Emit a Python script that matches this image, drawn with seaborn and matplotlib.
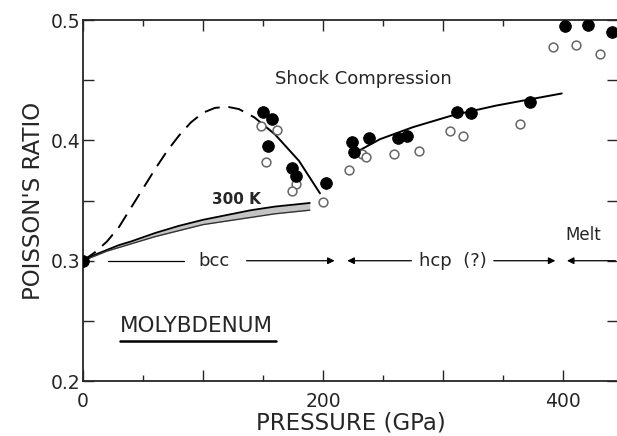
import numpy as np
import pandas as pd
import matplotlib
matplotlib.use("Agg")
import matplotlib.pyplot as plt
import seaborn as sns

# pontos de choque (cheios / vazios)
filled_p = [0, 149.7, 157.8, 154.4, 174.4, 177.5, 202.5,
            224.4, 225.6, 238.6, 262.8, 270.0, 311.4, 323.6, 372.5,
            402.0, 421.0, 440.6]
filled_nu = [0.300, 0.424, 0.418, 0.395, 0.377, 0.370, 0.365,
             0.399, 0.390, 0.402, 0.402, 0.404, 0.424, 0.423, 0.432,
             0.495, 0.496, 0.490]
open_p = [148.3, 161.7, 152.2, 177.8, 174.2, 199.7,
          221.7, 232.2, 235.6, 259.4, 280.0, 306.1, 316.4, 364.2,
          392.0, 411.0, 430.6]
open_nu = [0.412, 0.409, 0.382, 0.364, 0.358, 0.349,
           0.375, 0.389, 0.386, 0.389, 0.391, 0.408, 0.404, 0.414,
           0.478, 0.479, 0.472]

# curvas 300 K (limites da faixa)
k300_p = [0, 10, 20, 30, 40, 60, 80, 100, 120, 140, 160, 189]
k300_hi = [0.300, 0.305, 0.309, 0.313, 0.316, 0.323, 0.329, 0.334, 0.338, 0.342, 0.345, 0.348]
k300_lo = [0.300, 0.304, 0.308, 0.311, 0.314, 0.320, 0.325, 0.330, 0.333, 0.336, 0.339, 0.342]

# curva tracejada (bcc) e ajustes
dash_p = [0, 10, 20, 30, 40, 50, 60, 70, 80, 90, 100, 110, 120, 130, 143]
dash_nu = [0.300, 0.307, 0.316, 0.328, 0.344, 0.360, 0.376, 0.391, 0.404,
           0.415, 0.423, 0.427, 0.428, 0.426, 0.419]
bcc_p = [143, 160, 180, 197.5]
bcc_nu = [0.419, 0.405, 0.383, 0.356]
hcp_p = [231, 247.5, 275, 308.6, 344.7, 399]
hcp_nu = [0.392, 0.401, 0.411, 0.421, 0.429, 0.439]

sns.set_style("ticks")
plt.rcParams["font.family"] = ["DejaVu Sans"]

fig = plt.figure(figsize=(6.17, 4.36), dpi=100)
ax = fig.add_axes([0.1345, 0.126, 0.867, 0.828])

# faixa 300 K
ax.fill_between(k300_p, k300_lo, k300_hi, color="#c4c4c4", lw=0)
sns.lineplot(x=k300_p, y=k300_hi, ax=ax, color="black", lw=1.3, sort=False)
sns.lineplot(x=k300_p, y=k300_lo, ax=ax, color="#333333", lw=1.0, sort=False)

sns.lineplot(x=dash_p, y=dash_nu, ax=ax, color="black", lw=1.4, sort=False,
             linestyle=(0, (8, 4.5)))
sns.lineplot(x=bcc_p, y=bcc_nu, ax=ax, color="black", lw=1.4, sort=False)
sns.lineplot(x=hcp_p, y=hcp_nu, ax=ax, color="black", lw=1.4, sort=False)

sns.scatterplot(x=open_p, y=open_nu, ax=ax, s=40, facecolor="white",
                edgecolor="#666666", linewidth=1.1, zorder=4)
sns.scatterplot(x=filled_p, y=filled_nu, ax=ax, s=70, color="black",
                edgecolor="black", zorder=5, clip_on=True)

# setas de fase
y_ar = 0.300
arrow = dict(arrowstyle="-|>", color="black", lw=0.9, mutation_scale=10)
ax.annotate("", xy=(212, y_ar), xytext=(134, y_ar), arrowprops=arrow)
ax.plot([21, 84], [y_ar, y_ar], color="black", lw=0.9)
ax.text(109, y_ar, "bcc", ha="center", va="center", fontsize=13)
ax.annotate("", xy=(218, y_ar), xytext=(276, y_ar), arrowprops=arrow)
ax.annotate("", xy=(396, y_ar), xytext=(340, y_ar), arrowprops=arrow)
ax.text(308, y_ar, "hcp  (?)", ha="center", va="center", fontsize=13)
ax.annotate("", xy=(401, y_ar), xytext=(446, y_ar), arrowprops=arrow)
ax.text(417, 0.321, "Melt", ha="center", va="center", fontsize=12)

ax.text(128, 0.351, "300 K", ha="center", va="center", fontsize=11,
        fontweight="bold")
ax.text(160, 0.451, "Shock Compression", ha="left", va="center", fontsize=13)
ax.text(31, 0.246, "MOLYBDENUM", ha="left", va="center", fontsize=15.5)
ax.plot([31, 161], [0.233, 0.233], color="black", lw=1.8)

ax.set_xlim(0, 445.8)
ax.set_ylim(0.2, 0.5)
ax.set_xticks([0, 100, 200, 300, 400])
ax.set_xticklabels(["0", "", "200", "", "400"], fontsize=13.5)
ax.set_xticks([50, 150, 250, 350], minor=True)
ax.set_yticks([0.2, 0.25, 0.3, 0.35, 0.4, 0.45, 0.5])
ax.set_yticklabels(["0.2", "", "0.3", "", "0.4", "", "0.5"], fontsize=13.5)
ax.tick_params(direction="in", which="major", length=8, width=1,
               top=True, right=True, pad=2)
ax.tick_params(direction="in", which="minor", length=4, width=1,
               top=True, right=True)
ax.tick_params(axis="x", which="major", pad=8)
for s in ax.spines.values():
    s.set_linewidth(1.3)
    s.set_visible(True)

ax.set_xlabel("PRESSURE (GPa)", fontsize=16.5, labelpad=0)
ax.set_ylabel("POISSON'S RATIO", fontsize=16.5, labelpad=4)

fig.savefig("out.png", dpi=100)
